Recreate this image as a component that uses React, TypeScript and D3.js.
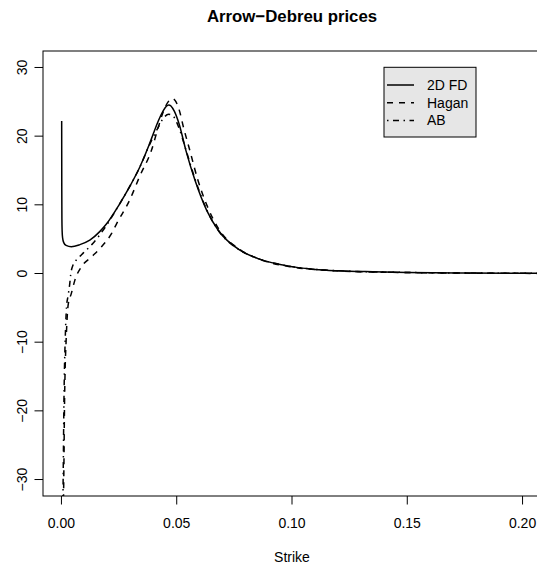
import React from "react";
import * as d3 from "d3";

const strikeFD = [0.0001, 0.00015, 0.0002, 0.0003, 0.0005, 0.001, 0.002, 0.0043, 0.008, 0.0123, 0.0166, 0.0195, 0.025, 0.030, 0.034, 0.038, 0.040, 0.042, 0.044, 0.0455, 0.0465, 0.0475, 0.049, 0.051, 0.054, 0.058, 0.063, 0.068, 0.0774, 0.085, 0.10, 0.11, 0.12, 0.135, 0.15, 0.175, 0.2, 0.21];
const priceFD = [22.2, 12, 8.0, 6.2, 5.2, 4.5, 4.1, 3.9, 4.2, 4.85, 6.1, 7.2, 10.0, 12.9, 15.5, 18.7, 20.5, 22.2, 23.6, 24.35, 24.55, 24.4, 23.6, 21.8, 17.9, 13.5, 9.2, 6.3, 3.4, 2.2, 1.0, 0.6, 0.4, 0.25, 0.15, 0.07, 0.03, 0.02];

const strikeHagan = [0.0009, 0.0011, 0.0013, 0.0016, 0.002, 0.0029, 0.0043, 0.0058, 0.0087, 0.013, 0.0174, 0.0217, 0.024, 0.0296, 0.034, 0.039, 0.042, 0.044, 0.0465, 0.048, 0.0495, 0.051, 0.053, 0.0557, 0.059, 0.063, 0.068, 0.0774, 0.085, 0.10, 0.12, 0.15, 0.2, 0.21];
const priceHagan = [-33, -27, -20, -14, -10, -4.6, -2.9, -1.0, 1.0, 2.4, 3.9, 5.8, 7.3, 10.7, 14.2, 17.9, 21.3, 23.4, 25.1, 25.5, 25.1, 23.9, 21.2, 17.9, 13.8, 10.0, 6.6, 3.5, 2.2, 0.95, 0.38, 0.14, 0.02, 0.01];

const strikeAB = [0.0006, 0.0008, 0.001, 0.0013, 0.0016, 0.0022, 0.0029, 0.0036, 0.004, 0.005, 0.0072, 0.0095, 0.0137, 0.0195, 0.025, 0.030, 0.034, 0.038, 0.042, 0.044, 0.0465, 0.0485, 0.050, 0.0513, 0.054, 0.058, 0.063, 0.068, 0.0774, 0.085, 0.10, 0.12, 0.15, 0.2, 0.21];
const priceAB = [-34, -28, -21, -14, -10, -4.9, -3.2, -1.5, -0.2, 1.2, 2.2, 3.0, 4.4, 7.0, 10.0, 12.9, 15.5, 18.6, 21.3, 22.5, 23.2, 22.9, 22.0, 20.9, 18.0, 13.7, 9.3, 6.3, 3.4, 2.2, 1.0, 0.4, 0.15, 0.03, 0.02];

const xTicks = [0, 0.05, 0.1, 0.15, 0.2];
const yTicks = [-30, -20, -10, 0, 10, 20, 30];
const seriesNames = ["2D FD", "Hagan", "AB"];

const W = 537, H = 563;
const L = 43, R = 541, T = 51, B = 496;
const FONT = "Liberation Sans, Arial, Helvetica, sans-serif";

export default function App() {
  const x = d3.scaleLinear().domain([-0.008, 0.208]).range([L, R]);
  const y = d3.scaleLinear().domain([-32.4, 32.4]).range([B, T]);
  const line = d3.line<[number, number]>().x(d => x(d[0])).y(d => y(d[1])).curve(d3.curveMonotoneX);
  const mk = (xs: number[], ys: number[]) => xs.map((v, i) => [v, ys[i]] as [number, number]);
  const series = [
    { name: seriesNames[0], d: line(mk(strikeFD, priceFD)), dash: undefined },
    { name: seriesNames[1], d: line(mk(strikeHagan, priceHagan)), dash: "6,6" },
    { name: seriesNames[2], d: line(mk(strikeAB, priceAB)), dash: "1.5,4.5,6,4.5" },
  ];
  const fmt = d3.format(".2f");
  const legX = 384, legY = 67.3, legW = 92, legH = 69.7;
  const rowY = [85, 102.7, 120.4];
  return (
    <svg width={W} height={H} style={{ position: "absolute", left: 0, top: 0, background: "#fff" }} fontFamily={FONT}>
      <defs>
        <clipPath id="plotclip"><rect x={L} y={T} width={R - L} height={B - T} /></clipPath>
      </defs>
      <text x={(L + R) / 2} y={21.5} textAnchor="middle" fontWeight="bold" fontSize={16.8}>Arrow−Debreu prices</text>
      <g clipPath="url(#plotclip)">
        {series.map(s => (
          <path key={s.name} d={s.d || ""} fill="none" stroke="#000" strokeWidth={1.5} strokeDasharray={s.dash} />
        ))}
      </g>
      <rect x={L} y={T} width={R - L} height={B - T} fill="none" stroke="#000" strokeWidth={1} />
      {xTicks.map(t => (
        <g key={"x" + t}>
          <line x1={x(t)} x2={x(t)} y1={B} y2={B + 8.5} stroke="#000" />
          <text x={x(t)} y={528} textAnchor="middle" fontSize={14}>{fmt(t)}</text>
        </g>
      ))}
      {yTicks.map(t => (
        <g key={"y" + t}>
          <line x1={L} x2={L - 8.5} y1={y(t)} y2={y(t)} stroke="#000" />
          <text transform={`translate(27,${y(t)}) rotate(-90)`} textAnchor="middle" fontSize={14}>{t < 0 ? "−" + Math.abs(t) : t}</text>
        </g>
      ))}
      <text x={(L + R) / 2} y={561.5} textAnchor="middle" fontSize={14}>Strike</text>
      <rect x={legX} y={legY} width={legW} height={legH} fill="#e6e6e6" stroke="#000" strokeWidth={1} />
      {series.map((s, i) => (
        <g key={"leg" + s.name}>
          <line x1={387} x2={414} y1={rowY[i]} y2={rowY[i]} stroke="#000" strokeWidth={1.5} strokeDasharray={s.dash} />
          <text x={427} y={rowY[i] + 5} fontSize={14}>{s.name}</text>
        </g>
      ))}
    </svg>
  );
}
